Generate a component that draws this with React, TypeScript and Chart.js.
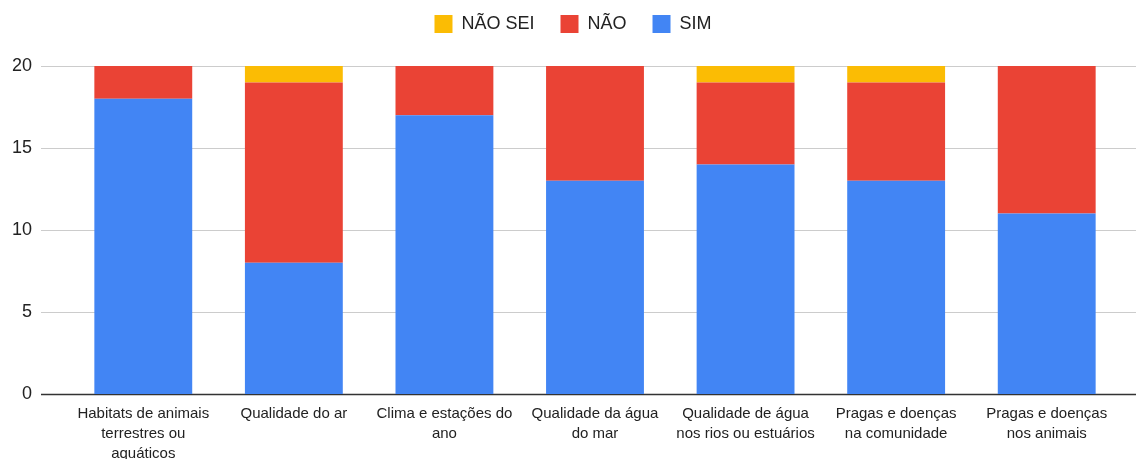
import React, { useEffect, useRef } from "react";
import { Chart, registerables } from "chart.js";

Chart.register(...registerables);

const categories: string[][] = [
  ["Habitats de animais", "terrestres ou", "aquáticos"],
  ["Qualidade do ar"],
  ["Clima e estações do", "ano"],
  ["Qualidade da água", "do mar"],
  ["Qualidade de água", "nos rios ou estuários"],
  ["Pragas e doenças", "na comunidade"],
  ["Pragas e doenças", "nos animais"],
];
const simValues = [18, 8, 17, 13, 14, 13, 11];
const naoValues = [2, 11, 3, 7, 5, 6, 9];
const naoSeiValues = [0, 1, 0, 0, 1, 1, 0];
const yTicks = [0, 5, 10, 15, 20];

const FONT = "'Liberation Sans', Arial, sans-serif";

const gridPlugin = {
  id: "extGrid",
  beforeDraw(chart: any) {
    const lg = chart.legend;
    if (lg && !lg._shifted) {
      lg.top -= 23;
      lg.bottom -= 23;
      lg.left += 12;
      lg.right += 12;
      lg._shifted = true;
    }
  },
  afterUpdate(chart: any) {
    if (chart.legend) chart.legend._shifted = false;
  },
  beforeDatasetsDraw(chart: any) {
    const { ctx } = chart;
    const y = chart.scales.y;
    ctx.save();
    yTicks.forEach((v) => {
      const py = Math.round(y.getPixelForValue(v)) + 0.5;
      ctx.beginPath();
      ctx.strokeStyle = v === 0 ? "#333333" : "#cccccc";
      ctx.lineWidth = v === 0 ? 1.5 : 1;
      ctx.moveTo(41, py);
      ctx.lineTo(1136, py);
      ctx.stroke();
    });
    ctx.restore();
  },
};

export default function App() {
  const ref = useRef<HTMLCanvasElement | null>(null);
  useEffect(() => {
    if (!ref.current) return;
    const chart = new Chart(ref.current, {
      type: "bar",
      data: {
        labels: categories,
        datasets: [
          { label: "SIM", data: simValues, backgroundColor: "#4285F4" },
          { label: "NÃO", data: naoValues, backgroundColor: "#EA4335" },
          { label: "NÃO SEI", data: naoSeiValues, backgroundColor: "#FBBC04" },
        ],
      },
      options: {
        animation: false,
        responsive: false,
        maintainAspectRatio: false,
        layout: { padding: { top: 12, right: 14, left: 0, bottom: 0 } },
        datasets: { bar: { categoryPercentage: 1, barPercentage: 0.65, borderWidth: 0 } },
        plugins: {
          legend: {
            position: "top",
            reverse: true,
            labels: {
              boxWidth: 18,
              boxHeight: 18,
              padding: 26,
              color: "#222222",
              font: { family: FONT, size: 18 },
            },
          },
          tooltip: { enabled: false },
        },
        scales: {
          x: {
            stacked: true,
            grid: { display: false, drawTicks: false },
            border: { display: false },
            ticks: {
              autoSkip: false,
              maxRotation: 0,
              minRotation: 0,
              padding: 10,
              color: "#222222",
              font: { family: FONT, size: 15, lineHeight: 1.33 },
            },
            afterFit(scale: any) {
              scale.height = 65;
            },
          },
          y: {
            stacked: true,
            min: 0,
            max: 20,
            grid: { display: false, drawTicks: false },
            border: { display: false },
            ticks: {
              stepSize: 5,
              padding: 36,
              color: "#222222",
              font: { family: FONT, size: 18 },
            },
            afterFit(scale: any) {
              scale.width = 68;
            },
          },
        },
      },
      plugins: [gridPlugin],
    });
    return () => chart.destroy();
  }, []);
  return (
    <div style={{ position: "absolute", left: 0, top: 0, width: 1136, height: 459, background: "#fff" }}>
      <canvas ref={ref} width={1136} height={459} style={{ width: 1136, height: 459 }} />
    </div>
  );
}
